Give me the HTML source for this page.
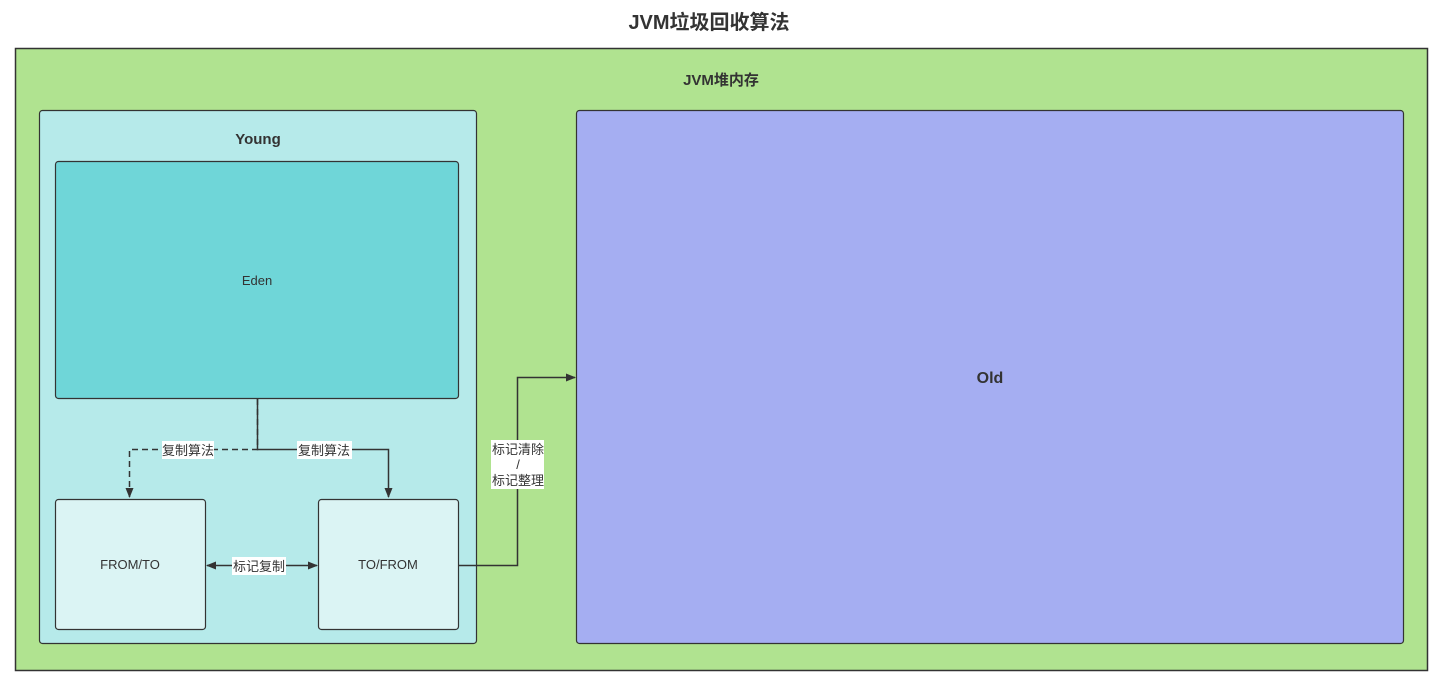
<!DOCTYPE html>
<html><head><meta charset="utf-8"><style>
html,body{margin:0;padding:0;background:#fff;width:1441px;height:682px;overflow:hidden}
svg text{font-family:"Liberation Sans","Noto Sans CJK SC",sans-serif;fill:#333}
</style></head><body>
<svg width="1441" height="682" viewBox="0 0 1441 682" xmlns="http://www.w3.org/2000/svg">
<defs>
<marker id="a" markerWidth="10" markerHeight="10" refX="9" refY="5" orient="auto" markerUnits="userSpaceOnUse"><path d="M0,1 L10,5 L0,9 Z" fill="#333"/></marker>
<marker id="b" markerWidth="10" markerHeight="10" refX="1" refY="5" orient="auto" markerUnits="userSpaceOnUse"><path d="M10,1 L0,5 L10,9 Z" fill="#333"/></marker>
</defs>
<text x="709" y="29" text-anchor="middle" font-size="20" font-weight="bold">JVM垃圾回收算法</text>
<rect x="15.5" y="48.5" width="1412" height="622" fill="#b0e390" stroke="#333" stroke-width="1.5"/>
<text x="721" y="85" text-anchor="middle" font-size="15" font-weight="bold">JVM堆内存</text>
<rect x="39.5" y="110.5" width="437" height="533" rx="3" fill="#b6eaea" stroke="#333" stroke-width="1.2"/>
<text x="258" y="144" text-anchor="middle" font-size="15" font-weight="bold">Young</text>
<rect x="55.5" y="161.5" width="403" height="237" rx="3" fill="#6fd6d8" stroke="#333" stroke-width="1.2"/>
<text x="257" y="285" text-anchor="middle" font-size="13">Eden</text>
<rect x="55.5" y="499.5" width="150" height="130" rx="3" fill="#dbf4f4" stroke="#333" stroke-width="1.2"/>
<text x="130" y="569" text-anchor="middle" font-size="13">FROM/TO</text>
<rect x="318.5" y="499.5" width="140" height="130" rx="3" fill="#dbf4f4" stroke="#333" stroke-width="1.2"/>
<text x="388" y="569" text-anchor="middle" font-size="13">TO/FROM</text>
<rect x="576.5" y="110.5" width="827" height="533" rx="3" fill="#a5aef2" stroke="#333" stroke-width="1.2"/>
<text x="990" y="383" text-anchor="middle" font-size="16" font-weight="bold">Old</text>
<!-- connectors -->
<path d="M257.5,399 V449.5 H129.5 V497" fill="none" stroke="#333" stroke-width="1.5" stroke-dasharray="6,4" marker-end="url(#a)"/>
<path d="M257.5,399 V449.5 H388.5 V497" fill="none" stroke="#333" stroke-width="1.5" marker-end="url(#a)"/>
<path d="M207,565.5 H317" fill="none" stroke="#333" stroke-width="1.5" marker-start="url(#b)" marker-end="url(#a)"/>
<path d="M459,565.5 H517.5 V377.5 H575" fill="none" stroke="#333" stroke-width="1.5" marker-end="url(#a)"/>
<!-- labels -->
<rect x="162" y="441" width="52" height="18" fill="#fff"/>
<text x="188" y="455" text-anchor="middle" font-size="13">复制算法</text>
<rect x="297" y="441" width="55" height="18" fill="#fff"/>
<text x="324" y="455" text-anchor="middle" font-size="13">复制算法</text>
<rect x="232" y="557" width="54" height="18" fill="#fff"/>
<text x="259" y="571" text-anchor="middle" font-size="13">标记复制</text>
<rect x="491" y="440" width="53" height="49" fill="#fff"/>
<text x="518" y="454" text-anchor="middle" font-size="13">标记清除</text>
<text x="518" y="469" text-anchor="middle" font-size="13">/</text>
<text x="518" y="485" text-anchor="middle" font-size="13">标记整理</text>
</svg>
</body></html>
